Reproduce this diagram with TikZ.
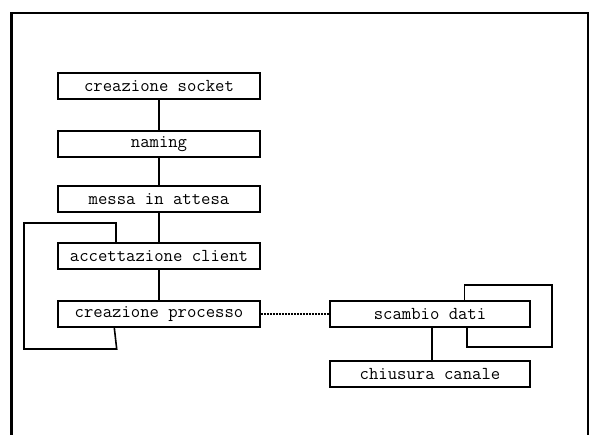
\documentclass[tikz,border=0pt]{standalone}
\usepackage{fontspec}
\begin{document}
\begin{tikzpicture}[x=1pt,y=-1pt,
  stage/.style={draw,line width=1.6pt,minimum width=202pt,minimum height=26pt,
    inner sep=0pt,font=\ttfamily\fontsize{18.2}{20}\selectfont},
  link/.style={line width=1.6pt},
  feed/.style={line width=1.6pt,dash pattern=on 1pt off 0.5pt}]
\useasboundingbox (0,0) rectangle (593,435);
% outer frame, open at the bottom
\draw[line width=2.8pt] (11.5,436) -- (11.5,13) -- (588,13) -- (588,436);

% server-side stages
\node[stage] (cs)  at (159,86)  {creazione socket};
\node[stage] (nm)  at (159,144) {naming};
\node[stage] (att) at (159,199) {messa in attesa};
\node[stage] (acc) at (159,256) {accettazione client};
\node[stage] (prc) at (159,314) {creazione processo};

% child-process stages
\node[stage,minimum width=200pt] (sd) at (430,314) {scambio dati};
\node[stage,minimum width=200pt] (cc) at (430,374) {chiusura canale};

\draw[link] (cs) -- (nm);
\draw[link] (nm) -- (att);
\draw[link] (att) -- (acc);
\draw[link] (acc) -- (prc);
\draw[link] ([xshift=2pt]sd.south) -- ([xshift=2pt]cc.north);
\draw[feed] (prc) -- (sd);

% accept loop
\coordinate (la) at (24,223);
\coordinate (lb) at (24,349);
\draw[link] ([xshift=-43pt]acc.north) -- ([xshift=-43pt]acc.north |- la) -- (la)
  -- (lb) -- (116.7,349) -- ([xshift=-44.7pt]prc.south);

% data exchange loop
\coordinate (ra) at (552,285);
\coordinate (rb) at (552,347);
\draw[link] ([xshift=34.3pt]sd.north) -- ([xshift=34.3pt]sd.north |- ra) -- (ra)
  -- (rb) -- ([xshift=36.7pt]sd.south |- rb) -- ([xshift=36.7pt]sd.south);
\end{tikzpicture}
\end{document}
